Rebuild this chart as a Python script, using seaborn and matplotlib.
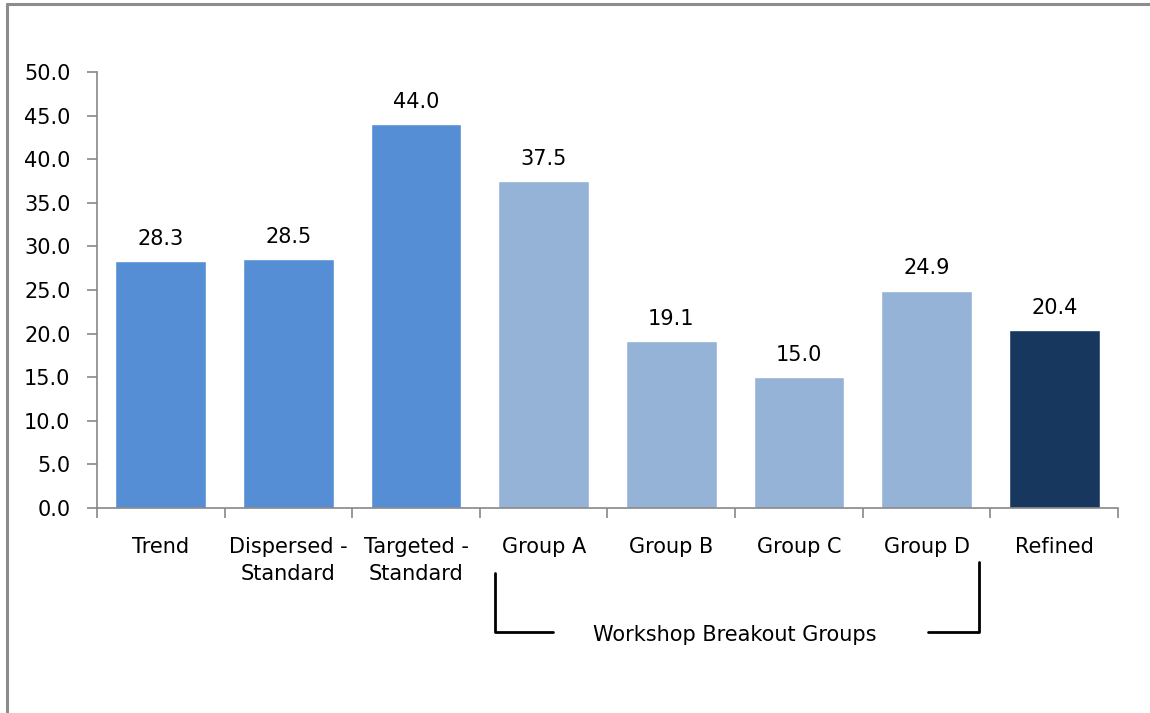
import matplotlib
matplotlib.use("Agg")
import matplotlib.pyplot as plt
from matplotlib.lines import Line2D
import pandas as pd
import seaborn as sns

# data
categories = ["Trend", "Dispersed -\nStandard", "Targeted -\nStandard",
              "Group A", "Group B", "Group C", "Group D", "Refined"]
values = [28.3, 28.5, 44.0, 37.5, 19.1, 15.0, 24.9, 20.4]
bar_colors = ["#558ED5", "#558ED5", "#558ED5",
              "#95B3D7", "#95B3D7", "#95B3D7", "#95B3D7", "#17375E"]
y_ticks = [0, 5, 10, 15, 20, 25, 30, 35, 40, 45, 50]
bracket_label = "Workshop Breakout Groups"

sns.set_style("white")
plt.rcParams["font.family"] = ["DejaVu Sans"]
FS = 15

df = pd.DataFrame({"category": categories, "value": values})

fig = plt.figure(figsize=(11.5, 7.13), dpi=100)
ax = fig.add_axes([0.0843, 0.2875, 0.8879, 0.6115])

sns.barplot(data=df, x="category", y="value", hue="category",
            palette=bar_colors, order=categories, hue_order=categories,
            width=0.71, legend=False, saturation=1, ax=ax)

# value labels above each bar
for cont in ax.containers:
    ax.bar_label(cont, fmt="%.1f", padding=9, fontsize=FS, color="black")

ax.set_ylim(0, 50)
ax.set_xlim(-0.5, len(categories) - 0.5)
ax.set_yticks(y_ticks)
ax.set_yticklabels([f"{t:.1f}" for t in y_ticks], fontsize=FS, color="black")
ax.set_xlabel("")
ax.set_ylabel("")

# category labels centred, tick marks at the category boundaries
ax.set_xticks(range(len(categories)))
ax.set_xticklabels(categories, fontsize=FS, linespacing=1.45, color="black")
ax.tick_params(axis="x", which="major", length=0, pad=21)
ax.set_xticks([i - 0.5 for i in range(len(categories) + 1)], minor=True)
ax.tick_params(axis="x", which="minor", length=7, width=1.2, color="#888888",
               direction="out", bottom=True)
ax.tick_params(axis="y", length=7, width=1.2, color="#888888", pad=12,
               direction="out", left=True)

for side in ["top", "right"]:
    ax.spines[side].set_visible(False)
for side in ["left", "bottom"]:
    ax.spines[side].set_color("#888888")
    ax.spines[side].set_linewidth(1.2)

# bracket under the workshop groups
tr = ax.get_xaxis_transform()
ax.plot([2.62, 2.62, 3.07], [-0.149, -0.284, -0.284], color="black",
        lw=2, transform=tr, clip_on=False)
ax.plot([6.01, 6.41, 6.41], [-0.284, -0.284, -0.124], color="black",
        lw=2, transform=tr, clip_on=False)
ax.text(4.5, -0.292, bracket_label, transform=tr, ha="center", va="center",
        fontsize=FS, color="black")

# grey frame around the chart (right and bottom edges fall off the image)
fig.add_artist(Line2D([0.0063, 0.0063], [0, 0.9943], transform=fig.transFigure,
                      color="#8c8c8c", lw=2.2))
fig.add_artist(Line2D([0.0063, 1.0], [0.9943, 0.9943], transform=fig.transFigure,
                      color="#8c8c8c", lw=2.2))

fig.savefig("out.png", dpi=100, facecolor="white")
